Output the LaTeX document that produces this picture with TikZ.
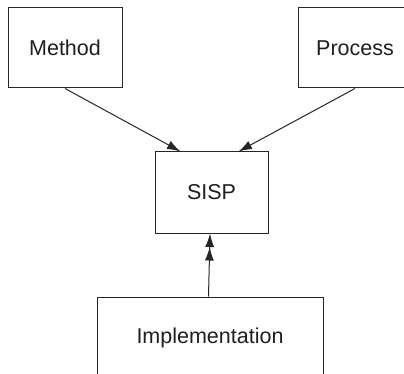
\documentclass[tikz,border=0pt]{standalone}
\usepackage{fontspec}
\setmainfont{Liberation Sans}
\usetikzlibrary{arrows.meta}
\begin{document}
\begin{tikzpicture}[x=1pt,y=-1pt,
  box/.style={draw=black!85,line width=1pt,inner sep=0pt,font=\fontsize{21.5}{25}\selectfont,text=black!88},
  tip/.style={Latex[length=13.5pt,width=9pt]},
  conn/.style={draw=black!85,line width=1pt,-{Latex[length=13.5pt,width=9pt]}}]
\useasboundingbox (0,0) rectangle (404,374);
\clip (0,0) rectangle (404,374);
\node[box,minimum width=114pt,minimum height=80pt] (m) at (65,48) {Method};
\node[box,minimum width=114pt,minimum height=80pt] (p) at (355,48) {Process};
\node[box,minimum width=113pt,minimum height=81pt] (s) at (211.5,192.5) {SISP};
\node[box,minimum width=226pt,minimum height=82pt] (i) at (210,338) {Implementation};
\draw[conn] (m.south) -- ([xshift=26pt]s.north west);
\draw[conn] (p.south) -- ([xshift=-30pt]s.north east);
\draw[draw=black!85,line width=1pt,-{Latex[length=13.5pt,width=9pt]Latex[length=13.5pt,width=9pt]}] ([xshift=-1.5pt]i.north) -- ([xshift=-1.5pt]s.south);
\end{tikzpicture}
\end{document}
